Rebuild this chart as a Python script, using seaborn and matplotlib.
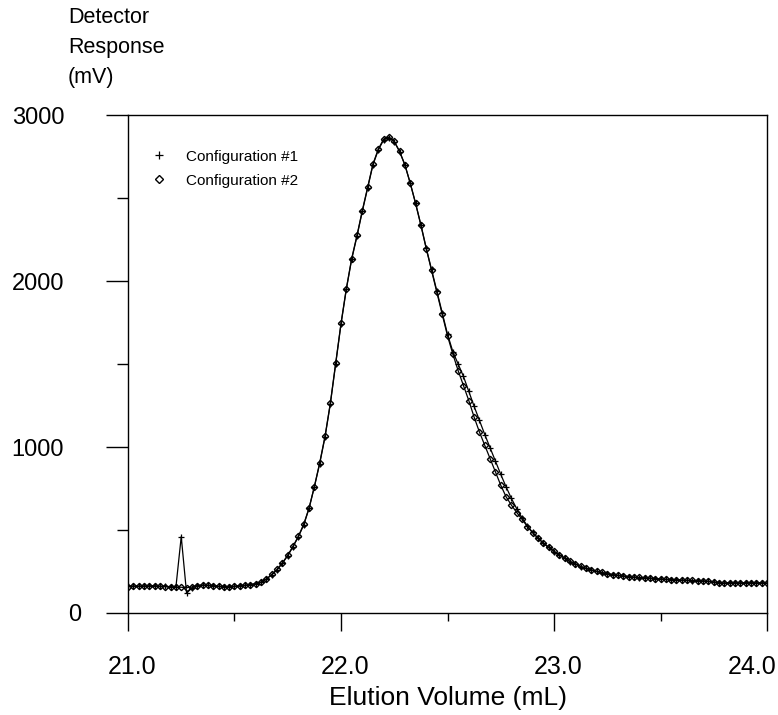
import numpy as np
import pandas as pd
import seaborn as sns
import matplotlib
matplotlib.use('Agg')
import matplotlib.pyplot as plt
import matplotlib.transforms as mtransforms
from matplotlib.lines import Line2D
from matplotlib.ticker import MultipleLocator

sns.set_theme(style="ticks")
plt.rcParams['font.family'] = ['Liberation Sans', 'DejaVu Sans']
plt.rcParams['text.color'] = 'black'
plt.rcParams['xtick.color'] = 'black'
plt.rcParams['ytick.color'] = 'black'
plt.rcParams['axes.labelcolor'] = 'black'

# elution volume grid (mL), every 0.025 mL from 21.0 to 24.0
volume = [21.000, 21.025, 21.050, 21.075, 21.100, 21.125, 21.150, 21.175, 21.200, 21.225,
          21.250, 21.275, 21.300, 21.325, 21.350, 21.375, 21.400, 21.425, 21.450, 21.475,
          21.500, 21.525, 21.550, 21.575, 21.600, 21.625, 21.650, 21.675, 21.700, 21.725,
          21.750, 21.775, 21.800, 21.825, 21.850, 21.875, 21.900, 21.925, 21.950, 21.975,
          22.000, 22.025, 22.050, 22.075, 22.100, 22.125, 22.150, 22.175, 22.200, 22.225,
          22.250, 22.275, 22.300, 22.325, 22.350, 22.375, 22.400, 22.425, 22.450, 22.475,
          22.500, 22.525, 22.550, 22.575, 22.600, 22.625, 22.650, 22.675, 22.700, 22.725,
          22.750, 22.775, 22.800, 22.825, 22.850, 22.875, 22.900, 22.925, 22.950, 22.975,
          23.000, 23.025, 23.050, 23.075, 23.100, 23.125, 23.150, 23.175, 23.200, 23.225,
          23.250, 23.275, 23.300, 23.325, 23.350, 23.375, 23.400, 23.425, 23.450, 23.475,
          23.500, 23.525, 23.550, 23.575, 23.600, 23.625, 23.650, 23.675, 23.700, 23.725,
          23.750, 23.775, 23.800, 23.825, 23.850, 23.875, 23.900, 23.925, 23.950, 23.975,
          24.000]

# detector response (mV), configuration #1
config1 = [160, 162, 160, 163, 162, 164, 161, 160, 158, 156,
           460, 120, 150, 165, 168, 166, 163, 160, 158, 157,
           160, 164, 167, 170, 175, 185, 205, 230, 260, 300,
           345, 400, 460, 530, 630, 760, 900, 1060, 1260, 1500,
           1740, 1950, 2130, 2270, 2420, 2560, 2700, 2790, 2850, 2865,
           2840, 2780, 2700, 2590, 2470, 2340, 2200, 2070, 1940, 1810,
           1680, 1575, 1500, 1425, 1335, 1245, 1160, 1075, 995, 915,
           835, 760, 690, 628, 573, 524, 485, 450, 420, 395,
           370, 350, 330, 310, 295, 280, 268, 258, 250, 243,
           236, 230, 226, 222, 218, 215, 213, 211, 209, 206,
           204, 202, 200, 199, 197, 196, 195, 193, 192, 190,
           187, 182, 180, 183, 182, 181, 183, 182, 181, 182,
           180]

# detector response (mV), configuration #2
config2 = [158, 161, 162, 161, 163, 162, 160, 159, 157, 156,
           155, 152, 156, 164, 167, 167, 164, 161, 159, 158,
           161, 163, 166, 171, 176, 186, 204, 232, 262, 302,
           348, 402, 462, 535, 632, 762, 905, 1065, 1265, 1505,
           1745, 1955, 2135, 2275, 2425, 2565, 2705, 2795, 2855, 2868,
           2842, 2782, 2700, 2590, 2468, 2336, 2196, 2064, 1932, 1800,
           1670, 1560, 1460, 1370, 1280, 1180, 1090, 1010, 930, 850,
           770, 700, 650, 605, 565, 520, 483, 452, 421, 396,
           372, 350, 331, 311, 296, 281, 269, 259, 251, 244,
           237, 231, 227, 223, 219, 216, 214, 212, 210, 207,
           205, 203, 201, 200, 198, 197, 196, 194, 193, 191,
           185, 181, 179, 182, 181, 180, 182, 181, 180, 181,
           179]

x_ticks = [21.0, 22.0, 23.0, 24.0]
x_tick_labels = ['21.0', '22.0', '23.0', '24.0']
y_ticks = [0, 1000, 2000, 3000]
legend_labels = ['Configuration #1', 'Configuration #2']

df = pd.DataFrame({'volume': volume, 'c1': config1, 'c2': config2})

fig = plt.figure(figsize=(7.78, 7.15), dpi=100)
ax = fig.add_axes([0.1645, 0.1427, 0.8214, 0.6963])

sns.lineplot(data=df, x='volume', y='c1', ax=ax, color='black', linewidth=0.9,
             marker='+', markersize=5, markeredgewidth=0.9, markeredgecolor='black')
sns.lineplot(data=df, x='volume', y='c2', ax=ax, color='black', linewidth=0.9,
             marker='D', markersize=3.2, markeredgewidth=1.0,
             markerfacecolor='none', markeredgecolor='black')

ax.set_xlim(21.0, 24.0)
ax.set_ylim(0, 3000)
ax.set_xticks(x_ticks)
ax.set_xticklabels(x_tick_labels)
ax.set_yticks(y_ticks)
ax.xaxis.set_minor_locator(MultipleLocator(0.5))
ax.yaxis.set_minor_locator(MultipleLocator(500))

ax.tick_params(axis='x', which='major', length=13, width=1, pad=17, labelsize=18, direction='out')
ax.tick_params(axis='x', which='minor', length=6, width=1, direction='out')
ax.tick_params(axis='y', which='major', length=16, width=1, pad=30, labelsize=17, direction='out')
ax.tick_params(axis='y', which='minor', length=8, width=1, direction='out')

# tick labels in the original sit a little right of their ticks, the last one pulled in
px = lambda n: mtransforms.ScaledTranslation(n / 100, 0, fig.dpi_scale_trans)
labels = ax.get_xticklabels()
for lab in labels[:-1]:
    lab.set_transform(lab.get_transform() + px(4))
labels[-1].set_ha('right')
labels[-1].set_transform(labels[-1].get_transform() + px(9))
ylabels = ax.get_yticklabels()
ylabels[0].set_transform(ylabels[0].get_transform() + px(17))

for s in ax.spines.values():
    s.set_linewidth(1.0)
    s.set_color('black')

ax.set_xlabel('Elution Volume (mL)', fontsize=19, labelpad=5)
ax.set_ylabel('')
fig.text(68 / 778, 1 - 7 / 715, 'Detector\nResponse\n(mV)', fontsize=15.5,
         ha='left', va='top', linespacing=1.55)

handles = [Line2D([], [], linestyle='none', marker='+', color='black', markersize=6, markeredgewidth=0.9),
           Line2D([], [], linestyle='none', marker='D', markerfacecolor='none', markeredgecolor='black',
                  markersize=4.5, markeredgewidth=1.0)]
ax.legend(handles, legend_labels, loc='upper left',
          bbox_to_anchor=(0.003, 0.958), frameon=False, fontsize=11,
          handletextpad=0.8, labelspacing=0.65)

fig.savefig('out.png', dpi=100)
